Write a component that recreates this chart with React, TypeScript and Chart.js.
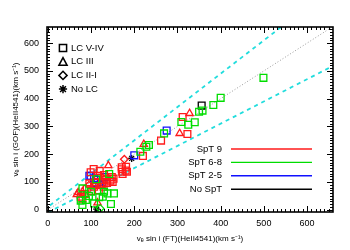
import React, { useEffect, useRef } from "react";
import { Chart, registerables } from "chart.js";

Chart.register(...registerables);

// ---- data: [v sin i (FT), v sin i (GOF)] ----
const spt9Squares = [
  [106, 147], [99, 135], [116, 122], [127, 107], [137, 97], [129, 83], [107, 83], [96, 95],
  [76, 47], [86, 57], [80, 40], [120, 140], [130, 125], [148, 118], [145, 105], [152, 112],
  [110, 100], [90, 75], [100, 68], [118, 70], [171, 146], [173, 129], [180, 141], [171, 153],
  [181, 155], [172, 137], [183, 137], [220, 194], [262, 249], [323, 273], [312, 334],
  [150, 100], [135, 112], [125, 92],
];
const spt9Triangles = [
  [140, 159], [70, 62], [67, 55], [115, 25], [222, 236], [305, 275], [328, 347], [80, 65], [120, 85],
];
const spt9Diamonds = [[177, 182], [95, 88]];
const spt25Squares = [
  [99, 122], [107, 113], [96, 122], [119, 89], [110, 96], [125, 100], [130, 118], [200, 196],
  [275, 285], [115, 108],
];
const spt68Squares = [
  [142, 129], [80, 77], [100, 65], [130, 65], [107, 23], [146, 21], [80, 17], [76, 33],
  [119, 45], [138, 59], [127, 47], [153, 59], [88, 35], [95, 50], [214, 209], [234, 233],
  [228, 227], [269, 275], [309, 316], [325, 306], [340, 315], [350, 353], [358, 357],
  [383, 377], [400, 403], [499, 475], [112, 110],
];
const spt68Diamonds = [[121, 5]];
const noSptSquares = [[356, 375]];
const noSptStars = [[113, 2], [194, 185]];

const oneToOne = [[0, 0], [660, 660]];
const upperLine = [[-10, -2], [660, 802]];
const lowerLine = [[0, -10], [660, 518]];

const xTicks = [0, 100, 200, 300, 400, 500, 600];
const yTicks = [0, 100, 200, 300, 400, 500, 600];
const shapeLegend = ["LC V-IV", "LC III", "LC II-I", "No LC"];
const colorLegend = ["SpT 9", "SpT 6-8", "SpT 2-5", "No SpT"];

const RED = "#ff1a1a";
const GREEN = "#00dd00";
const BLUE = "#1010ff";
const BLACK = "#000000";
const colorLegendColors = [RED, GREEN, BLUE, BLACK];
const FONT = "'Liberation Sans', Arial, Helvetica, sans-serif";

const toPts = (arr: number[][]) => arr.map(([x, y]) => ({ x, y }));

function pointSet(arr: number[][], color: string, style: string, r: number) {
  return {
    type: "scatter" as const,
    data: toPts(arr),
    pointStyle: style,
    pointRadius: r,
    pointBorderColor: color,
    pointBackgroundColor: "rgba(0,0,0,0)",
    pointBorderWidth: 1.3,
    showLine: false,
    order: 1,
  };
}

function lineSet(arr: number[][], color: string, dash: number[], width: number) {
  return {
    type: "scatter" as const,
    data: toPts(arr),
    showLine: true,
    borderColor: color,
    borderWidth: width,
    borderDash: dash,
    pointRadius: 0,
    order: 10,
  };
}

function drawMarker(ctx: CanvasRenderingContext2D, kind: string, x: number, y: number, s: number) {
  ctx.beginPath();
  if (kind === "square") {
    ctx.rect(x - s, y - s, 2 * s, 2 * s);
  } else if (kind === "triangle") {
    ctx.moveTo(x, y - s - 0.5);
    ctx.lineTo(x + s + 0.5, y + s);
    ctx.lineTo(x - s - 0.5, y + s);
    ctx.closePath();
  } else if (kind === "diamond") {
    ctx.moveTo(x, y - s - 0.5);
    ctx.lineTo(x + s + 0.5, y);
    ctx.lineTo(x, y + s + 0.5);
    ctx.lineTo(x - s - 0.5, y);
    ctx.closePath();
  } else {
    for (let k = 0; k < 4; k++) {
      const a = (k * Math.PI) / 4;
      ctx.moveTo(x - Math.cos(a) * (s + 0.5), y - Math.sin(a) * (s + 0.5));
      ctx.lineTo(x + Math.cos(a) * (s + 0.5), y + Math.sin(a) * (s + 0.5));
    }
  }
  ctx.stroke();
}

const framePlugin = {
  id: "frame",
  afterDraw(chart: any) {
    const { ctx, chartArea: a, scales } = chart;
    const xs = scales.x;
    const ys = scales.y;
    ctx.save();
    ctx.strokeStyle = "#000";
    ctx.lineWidth = 1.6;
    ctx.strokeRect(a.left, a.top, a.right - a.left, a.bottom - a.top);
    ctx.lineWidth = 1;
    ctx.beginPath();
    for (let v = 0; v <= 660; v += 10) {
      const major = v % 100 === 0;
      const len = major ? 6 : 3;
      const px = Math.round(xs.getPixelForValue(v)) + 0.5;
      if (px > a.left && px < a.right) {
        ctx.moveTo(px, a.bottom);
        ctx.lineTo(px, a.bottom - len);
        ctx.moveTo(px, a.top);
        ctx.lineTo(px, a.top + len);
      }
      const py = Math.round(ys.getPixelForValue(v)) + 0.5;
      if (py > a.top && py < a.bottom) {
        ctx.moveTo(a.left, py);
        ctx.lineTo(a.left + len, py);
        ctx.moveTo(a.right, py);
        ctx.lineTo(a.right - len, py);
      }
    }
    ctx.stroke();

    // shape legend (top-left)
    const kinds = ["square", "triangle", "diamond", "star"];
    ctx.font = "9.5px " + FONT;
    ctx.fillStyle = "#000";
    ctx.textBaseline = "middle";
    ctx.textAlign = "left";
    ctx.lineWidth = 1.5;
    shapeLegend.forEach((t, i) => {
      const y = 48 + i * 13.7;
      drawMarker(ctx, kinds[i], 63, y, 3.6);
      ctx.fillText(t, 71, y);
    });

    // colour legend (bottom-right)
    ctx.textAlign = "right";
    colorLegend.forEach((t, i) => {
      const y = 149 + i * 13.4;
      ctx.fillStyle = "#000";
      ctx.fillText(t, 222, y);
      ctx.strokeStyle = colorLegendColors[i];
      ctx.lineWidth = 1.4;
      ctx.beginPath();
      ctx.moveTo(231, y);
      ctx.lineTo(312, y);
      ctx.stroke();
    });
    ctx.restore();
  },
};

export default function App() {
  const ref = useRef<HTMLCanvasElement>(null);
  useEffect(() => {
    if (!ref.current) return;
    const chart = new Chart(ref.current, {
      type: "scatter",
      data: {
        datasets: [
          lineSet(oneToOne, "#999999", [1, 2], 1),
          lineSet(upperLine, "#22dddd", [4, 4], 1.8),
          lineSet(lowerLine, "#22dddd", [4, 4], 1.8),
          pointSet(spt68Squares, GREEN, "rect", 4.8),
          pointSet(spt68Diamonds, GREEN, "rectRot", 3.8),
          pointSet(spt9Squares, RED, "rect", 4.8),
          pointSet(spt9Triangles, RED, "triangle", 4.2),
          pointSet(spt9Diamonds, RED, "rectRot", 3.8),
          pointSet(spt25Squares, BLUE, "rect", 4.8),
          pointSet(noSptSquares, BLACK, "rect", 4.8),
          pointSet(noSptStars, BLACK, "star", 3.5),
        ] as any,
      },
      options: {
        animation: false,
        responsive: false,
        maintainAspectRatio: false,
        layout: { padding: { top: 27, right: 17, left: 0, bottom: 0 } },
        plugins: { legend: { display: false }, tooltip: { enabled: false } },
        scales: {
          x: {
            type: "linear",
            min: -2,
            max: 660,
            grid: { display: false, drawTicks: false },
            border: { display: false },
            afterFit: (s: any) => { s.height = 38; },
            afterBuildTicks: (s: any) => { s.ticks = xTicks.map((v) => ({ value: v })); },
            ticks: { padding: 6, color: "#000", font: { family: FONT, size: 9 }, maxRotation: 0 },
            title: {
              display: true,
              text: "vₑ sin i (FT)(HeII4541)(km s⁻¹)",
              color: "#000",
              font: { family: FONT, size: 8 },
              padding: { top: 0, bottom: 6 },
            },
          },
          y: {
            type: "linear",
            min: -8,
            max: 658,
            grid: { display: false, drawTicks: false },
            border: { display: false },
            afterFit: (s: any) => { s.width = 47; },
            afterBuildTicks: (s: any) => { s.ticks = yTicks.map((v) => ({ value: v })); },
            ticks: { padding: 8, color: "#000", font: { family: FONT, size: 9 } },
            title: {
              display: true,
              text: "vₑ sin i (GOF)(HeII4541)(km s⁻¹)",
              color: "#000",
              font: { family: FONT, size: 8 },
              padding: { top: 11, bottom: 0 },
            },
          },
        },
      } as any,
      plugins: [framePlugin],
    });
    return () => chart.destroy();
  }, []);
  return (
    <div style={{ position: "absolute", left: 0, top: 0, width: 350, height: 250, background: "#fff" }}>
      <canvas ref={ref} width={350} height={250} />
    </div>
  );
}
